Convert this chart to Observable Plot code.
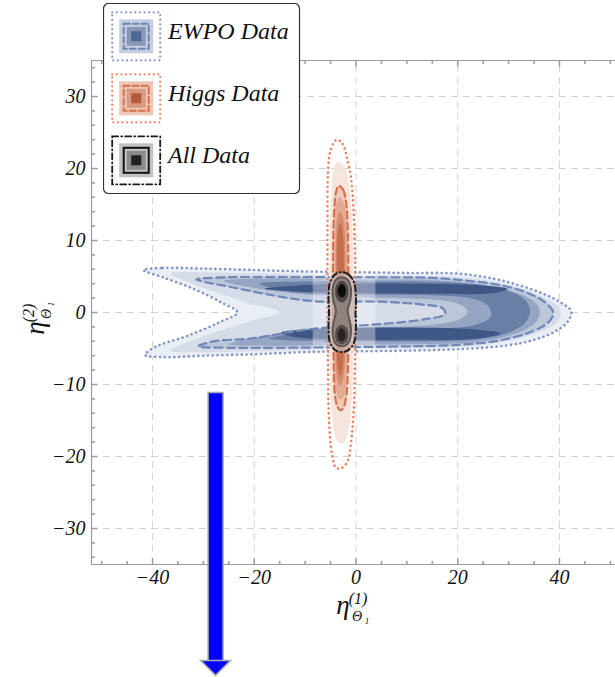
<!DOCTYPE html>
<html><head><meta charset="utf-8">
<script src="https://cdn.jsdelivr.net/npm/d3@7"></script>
<script src="https://cdn.jsdelivr.net/npm/@observablehq/plot@0.6"></script>
<style>
body{margin:0;background:#fff}
#wrap{position:relative;width:615px;height:677px;overflow:hidden}
#legend{position:absolute;left:103px;top:3px}
</style></head><body><div id="wrap"></div>
<script>
// ---------- axis / tick data ----------
const xDomain = [-52, 52];
const yDomain = [-35, 35];
const xMajor = [-40, -20, 0, 20, 40];
const xMinor = [-50, -45, -35, -30, -25, -15, -10, -5, 5, 10, 15, 25, 30, 35, 45, 50];
const yMajor = [-30, -20, -10, 0, 10, 20, 30];
const yMinor = [-34, -32, -28, -26, -24, -22, -18, -16, -14, -12, -8, -6, -4, -2, 2, 4, 6, 8, 12, 14, 16, 18, 22, 24, 26, 28, 32, 34];
const xGrid = [-40, -20, 0, 20, 40];
const yGrid = [-30, -20, -10, 0, 10, 20, 30];

// ---------- EWPO contours (data units) ----------
const ewpoDotted = [[-41.8,5.9],[-38,6.2],[-30,6.1],[-20,5.9],[-10,5.7],[0,5.6],[10,5.5],[20,5.4],[27,4.7],[32,3.8],[36.5,2.7],[40,1.5],[42.3,0.2],[41.6,-1.3],[39,-2.7],[35,-3.8],[29.5,-4.6],[20,-5.1],[10,-5.3],[0,-5.4],[-10,-5.5],[-20,-5.8],[-30,-6.0],[-38,-6.2],[-41.5,-5.9],[-39.5,-4.8],[-33,-3.2],[-27,-1.4],[-23.3,0],[-26.5,1.4],[-32,3.3],[-38,4.9]];
const ewpoLevel2 = [[-36.5,5.4],[-30,5.6],[-20,5.4],[-5,5.2],[10,5.1],[20,4.9],[27,4.3],[32.5,3.3],[37,2.0],[40,0.6],[40,-0.9],[37.5,-2.3],[33,-3.4],[27,-4.3],[20,-4.8],[5,-5.0],[-10,-5.2],[-22,-5.4],[-30,-5.5],[-36.5,-5.3],[-33,-4.1],[-27,-2.6],[-21,-1.2],[-15,0],[-21,1.3],[-27,2.7],[-33,4.2]];
const ewpoDashed = [[-31.4,4.6],[-25,4.9],[-15,4.9],[0,4.9],[15,4.8],[22,4.4],[28.4,3.8],[33.5,2.8],[37.2,1.4],[38.8,0],[37.8,-1.4],[34,-2.8],[28,-3.9],[20,-4.5],[10,-4.7],[0,-4.8],[-15,-4.9],[-25,-4.9],[-31,-4.7],[-28,-4.0],[-20.6,-3.6],[-8.8,-2.3],[4.9,-1.6],[13,-1.0],[17.5,-0.2],[17,0.6],[13,1.1],[4.9,1.5],[-8.8,1.6],[-18,2.6],[-25,3.6],[-29.5,4.2]];
const ewpoLevel4 = [[-26,4.4],[-18,4.7],[0,4.6],[15,4.5],[23,4.0],[29,3.3],[33.5,2.2],[36,0.7],[35.8,-0.9],[33.5,-2.3],[28.5,-3.5],[22,-4.2],[10,-4.4],[-5,-4.5],[-18,-4.6],[-25,-4.4],[-20,-3.5],[-10,-2.6],[3,-2.1],[15,-1.7],[20.5,-0.9],[22,0.1],[20.5,1.1],[15,1.8],[3,2.1],[-10,2.5],[-20,3.4]];
const ewpoLevel5 = [[-19,4.0],[-10,4.3],[5,4.3],[18,4.2],[25,3.8],[30,3.0],[33.3,1.7],[34.2,0.2],[33.3,-1.4],[30,-2.8],[24,-3.7],[15,-4.0],[0,-4.0],[-12,-3.9],[-17,-3.6],[-12,-2.9],[0,-2.4],[15,-2.2],[23,-1.8],[26.5,-0.6],[26,0.9],[23,1.9],[15,2.4],[0,2.5],[-12,2.8]];
const ewpoCoreTop = [[-18,3.3],[-8,3.9],[10,4.0],[24,3.8],[29.8,3.3],[27,2.7],[15,2.6],[0,2.7],[-12,2.9]];
const ewpoCoreBottom = [[-14.7,-2.8],[-5,-2.2],[10,-2.1],[24,-2.4],[28.4,-2.9],[24,-3.6],[10,-3.8],[-5,-3.7],[-12,-3.4]];
const ewpoColors = ["#e9edf4", "#d5dce8", "#bcc6d9", "#95a5c3", "#6a7fa6", "#3f5785"];

// Higgs fit domain (its lightest layer)
const higgsBand = [{x1: -8.4, x2: 3.9, y1: -6.6, y2: 6.6}];

// ---------- Higgs contours ----------
const higgsDotted = [[-3.8,24],[-2.6,23.4],[-1.8,21.5],[-1.0,18.8],[-0.5,14.5],[-0.2,8],[0,0],[-0.2,-7],[-0.45,-13.6],[-1.0,-18.2],[-1.6,-20.6],[-2.8,-21.6],[-3.9,-21.6],[-4.7,-19.8],[-5.3,-15],[-5.5,-7],[-5.6,2],[-5.6,12],[-5.5,19.5],[-5.0,22.5]];
const higgsLevel1 = [[-3.5,21],[-2.3,20.3],[-1.3,17.5],[-0.7,12],[-0.5,4],[-0.5,-5],[-0.8,-12],[-1.5,-16.5],[-2.6,-18.2],[-3.7,-17.8],[-4.6,-15],[-5.1,-8],[-5.2,2],[-5.1,12],[-4.7,18],[-4.2,20.4]];
const higgsDashed = [[-3.4,17.6],[-2.5,17],[-1.9,15],[-1.6,11],[-1.5,4],[-1.5,-3],[-1.6,-8],[-1.9,-11.5],[-2.5,-13.3],[-3.1,-13.6],[-3.7,-13],[-4.2,-11],[-4.4,-6],[-4.5,2],[-4.5,9],[-4.3,14],[-3.9,16.8]];
const higgsLevel3 = [[-3.3,16],[-2.4,15.2],[-1.8,12],[-1.7,4],[-1.7,-4],[-1.9,-9.5],[-2.5,-11.8],[-3.2,-12.1],[-3.9,-11],[-4.3,-6],[-4.3,3],[-4.2,11],[-3.9,15]];
const higgsLevel4 = [[-3.2,14],[-2.5,13],[-2.1,9],[-2.0,2],[-2.1,-5],[-2.5,-9.2],[-3.1,-10.2],[-3.7,-9.2],[-4.0,-4],[-4.0,4],[-3.9,10.5],[-3.6,13.3]];
const higgsLevel5 = [[-3.1,12.5],[-2.6,11],[-2.35,6],[-2.35,-2],[-2.6,-7.5],[-3.1,-8.8],[-3.6,-7.5],[-3.8,-2],[-3.8,6],[-3.6,11]];
const higgsColors = ["#f5e0d7", "#edc5b4", "#e1a68e", "#d4876a", "#c26a4b"];

// ---------- All-data contours ----------
const allDotDash = [[-2.8,5.6],[-1.5,5.3],[-0.4,4.2],[0,2],[-0.1,0],[0,-2],[-0.4,-4.2],[-1.5,-5.2],[-2.8,-5.5],[-4.1,-5.2],[-5.1,-4.2],[-5.4,-2],[-5.3,0],[-5.4,2],[-5.1,4.2],[-4.1,5.3]];
const allSolid = [[-2.8,4.9],[-1.6,4.5],[-1.0,3.3],[-1.1,1.8],[-1.65,0.2],[-1.1,-1.6],[-1.0,-3.0],[-1.6,-4.3],[-2.8,-4.7],[-4.0,-4.3],[-4.6,-3.0],[-4.5,-1.6],[-3.95,0.2],[-4.5,1.8],[-4.6,3.3],[-4.0,4.5]];
const allTopMid = [[-2.8,4.4],[-1.8,3.9],[-1.5,2.9],[-1.9,1.8],[-2.8,1.4],[-3.7,1.8],[-4.1,2.9],[-3.8,3.9]];
const allTopCore = [[-2.8,4.0],[-2.2,3.6],[-2.0,3.0],[-2.3,2.3],[-2.8,2.1],[-3.3,2.3],[-3.6,3.0],[-3.4,3.6]];
const allBotMid = [[-2.8,-1.7],[-1.8,-2.2],[-1.5,-3.2],[-1.9,-4.1],[-2.8,-4.4],[-3.7,-4.1],[-4.1,-3.2],[-3.8,-2.2]];
const allBotCore = [[-2.8,-2.2],[-2.2,-2.6],[-2.0,-3.2],[-2.3,-3.8],[-2.8,-4.0],[-3.3,-3.8],[-3.6,-3.2],[-3.4,-2.6]];

// ---------- annotation arrow ----------
const arrows = [{x: -27.6, top: -11.3, base: -48.4, tip: -50.4}];

// ---------- legend ----------
const legendLabels = ["EWPO Data", "Higgs Data", "All Data"];
const legendLine = ["#7f94c2", "#e8845e", "#1a1a1a"];
const legendInner = ["#6f86b6", "#d9704a", "#111111"];
const legendFills = [["#c6cee0", "#8797b8", "#4f6794"], ["#ecc7b7", "#d99a81", "#b25a3a"], ["#c2c2c2", "#8a8a8a", "#222222"]];
const legendOuterDash = ["0.01 4.6", "0.01 4.6", "6 3 1 3"];
const legendInnerDash = ["6 3", "6 3", "none"];

// ---------- helpers ----------
const X = d => d[0], Y = d => d[1];
const region = (pts, fill, o = {}) => Plot.line(pts, {x: X, y: Y, curve: "catmull-rom-closed", fill, stroke: "none", ...o});
const contour = (pts, stroke, dash, w, o = {}) => Plot.line(pts, {x: X, y: Y, curve: "catmull-rom-closed", fill: "none", stroke, strokeWidth: w, strokeDasharray: dash, strokeLinecap: "round", ...o});
const tickSym = (dx, dy) => ({draw(c, s) { const l = Math.sqrt(s / Math.PI); c.moveTo(0, 0); c.lineTo(dx * l, dy * l); }});
const headSym = {draw(c, s) { const r = Math.sqrt(s / Math.PI); c.moveTo(0, 0); c.lineTo(-r, -r); c.lineTo(r, -r); c.closePath(); }};
const fmt = d => d < 0 ? "\u2212" + Math.abs(d) : String(d);
const frameColor = "#9a9a9a";
const font = "'Liberation Serif', 'Times New Roman', serif";

const chart = Plot.plot({
  width: 615, height: 677,
  marginTop: 60, marginBottom: 113, marginLeft: 91, marginRight: 0,
  x: {domain: xDomain, range: [91, 620], axis: null},
  y: {domain: yDomain, range: [564, 60], axis: null},
  style: {background: "white", fontFamily: font, overflow: "visible"},
  marks: [
    Plot.ruleX(xGrid, {x: d => d, y1: yDomain[0], y2: yDomain[1], stroke: "#d2d2d2", strokeDasharray: "7 5"}),
    Plot.ruleY(yGrid, {y: d => d, x1: xDomain[0], x2: 60, stroke: "#d2d2d2", strokeDasharray: "7 5"}),
    // EWPO
    region(ewpoDotted, ewpoColors[0]),
    region(ewpoLevel2, ewpoColors[1]),
    region(ewpoDashed, ewpoColors[2]),
    region(ewpoLevel4, ewpoColors[3]),
    region(ewpoLevel5, ewpoColors[4]),
    region(ewpoCoreTop, ewpoColors[5]),
    region(ewpoCoreBottom, ewpoColors[5]),
    Plot.rect(higgsBand, {x1: "x1", x2: "x2", y1: "y1", y2: "y2", fill: "white", fillOpacity: 0.35}),
    contour(ewpoDotted, "#7f94c2", "0.01 4.8", 2.6),
    contour(ewpoDashed, "#7088b8", "8 4.5", 2.2),
    // Higgs
    region(higgsLevel1, higgsColors[0], {fillOpacity: 0.85}),
    region(higgsDashed, higgsColors[1], {fillOpacity: 0.85}),
    region(higgsLevel3, higgsColors[2], {fillOpacity: 0.88}),
    region(higgsLevel4, higgsColors[3], {fillOpacity: 0.9}),
    region(higgsLevel5, higgsColors[4], {fillOpacity: 0.9}),
    contour(higgsDotted, "#e8845e", "0.01 4.8", 2.6),
    contour(higgsDashed, "#d9714b", "7 4", 2.2),
    // All data
    region(allDotDash, "#c4b4ae", {fillOpacity: 0.75}),
    region(allSolid, "#8b7f7c", {fillOpacity: 0.92}),
    region(allTopMid, "#4e4545"),
    region(allBotMid, "#554a49"),
    region(allTopCore, "#0e0d0d"),
    region(allBotCore, "#2a2222"),
    contour(allDotDash, "#1e1e1e", "6 3 1 3", 2),
    contour(allSolid, "#5e5858", "none", 2),
    // frame
    Plot.ruleX([xDomain[0]], {x: d => d, y1: yDomain[0], y2: yDomain[1], stroke: frameColor, strokeWidth: 1.2}),
    Plot.ruleY([yDomain[0], yDomain[1]], {y: d => d, x1: xDomain[0], x2: xDomain[1], stroke: frameColor, strokeWidth: 1.2}),
    // ticks (inward)
    Plot.dot(xMajor, {x: d => d, y: yDomain[0], r: 6, symbol: tickSym(0, -1), fill: "none", stroke: frameColor}),
    Plot.dot(xMinor, {x: d => d, y: yDomain[0], r: 3.5, symbol: tickSym(0, -1), fill: "none", stroke: frameColor}),
    Plot.dot(xMajor, {x: d => d, y: yDomain[1], r: 6, symbol: tickSym(0, 1), fill: "none", stroke: frameColor}),
    Plot.dot(xMinor, {x: d => d, y: yDomain[1], r: 3.5, symbol: tickSym(0, 1), fill: "none", stroke: frameColor}),
    Plot.dot(yMajor, {x: xDomain[0], y: d => d, r: 6, symbol: tickSym(1, 0), fill: "none", stroke: frameColor}),
    Plot.dot(yMinor, {x: xDomain[0], y: d => d, r: 3.5, symbol: tickSym(1, 0), fill: "none", stroke: frameColor}),
    // tick labels
    Plot.text(xMajor, {x: d => d, y: yDomain[0], dy: 13, text: fmt, fontSize: 20, fontStyle: "italic", fontFamily: font, fill: "#111"}),
    Plot.text(yMajor, {x: xDomain[0], y: d => d, dx: -6, textAnchor: "end", text: fmt, fontSize: 20, fontStyle: "italic", fontFamily: font, fill: "#111"}),
    // arrow
    Plot.ruleX(arrows, {x: "x", y1: "top", y2: "base", stroke: "#a9a9a9", strokeWidth: 16.5, insetTop: -1.5}),
    Plot.ruleX(arrows, {x: "x", y1: "top", y2: "base", stroke: "#0000ff", strokeWidth: 13.5}),
    Plot.dot(arrows, {x: "x", y: "tip", r: 15, symbol: headSym, fill: "#0000ff", stroke: "#a9a9a9", strokeWidth: 1.5})
  ]
});

// axis labels with sub/superscripts
const svg = d3.select(chart);
function axisLabel(g, sup) {
  g.append("text").attr("x", 0).attr("y", 0).attr("font-size", 27).text("\u03B7");
  g.append("text").attr("x", 15).attr("y", -10).attr("font-size", 16).text(sup);
  g.append("text").attr("x", 14).attr("y", 7).attr("font-size", 14).text("\u0398");
  g.append("text").attr("x", 24).attr("y", 10).attr("font-size", 9).text("1");
  g.selectAll("text").attr("font-family", font).attr("font-style", "italic").attr("fill", "#111");
}
axisLabel(svg.append("g").attr("transform", "translate(343,614)"), "(1)");
axisLabel(svg.append("g").attr("transform", "translate(44,328) rotate(-90)"), "(2)");

const wrap = document.getElementById("wrap");
wrap.appendChild(chart);

// legend
const leg = d3.create("svg").attr("id", "legend").attr("width", 200).attr("height", 194);
leg.append("rect").attr("x", 0.5).attr("y", 0.5).attr("width", 196).attr("height", 190).attr("rx", 5)
  .attr("fill", "white").attr("stroke", "#333").attr("stroke-width", 1.2);
legendLabels.forEach((lab, i) => {
  const cx = 33.2, cy = 33.3 + i * 62;
  const sq = (s, fill, stroke, dash, w) => leg.append("rect").attr("x", cx - s / 2).attr("y", cy - s / 2)
    .attr("width", s).attr("height", s).attr("fill", fill).attr("stroke", stroke)
    .attr("stroke-dasharray", dash).attr("stroke-width", w).attr("stroke-linecap", "round");
  sq(34, legendFills[i][0], "none", null, 0);
  sq(48, "none", legendLine[i], legendOuterDash[i], i === 2 ? 1.8 : 2.2);
  sq(19, legendFills[i][1], "none", null, 0);
  sq(25, "none", legendInner[i], legendInnerDash[i] === "none" ? null : legendInnerDash[i], 2);
  sq(10, legendFills[i][2], "none", null, 0);
  leg.append("text").attr("x", 65).attr("y", cy + 3).attr("font-size", 24).attr("font-style", "italic")
    .attr("font-family", font).attr("fill", "#111").text(lab);
});
wrap.appendChild(leg.node());
</script></body></html>
